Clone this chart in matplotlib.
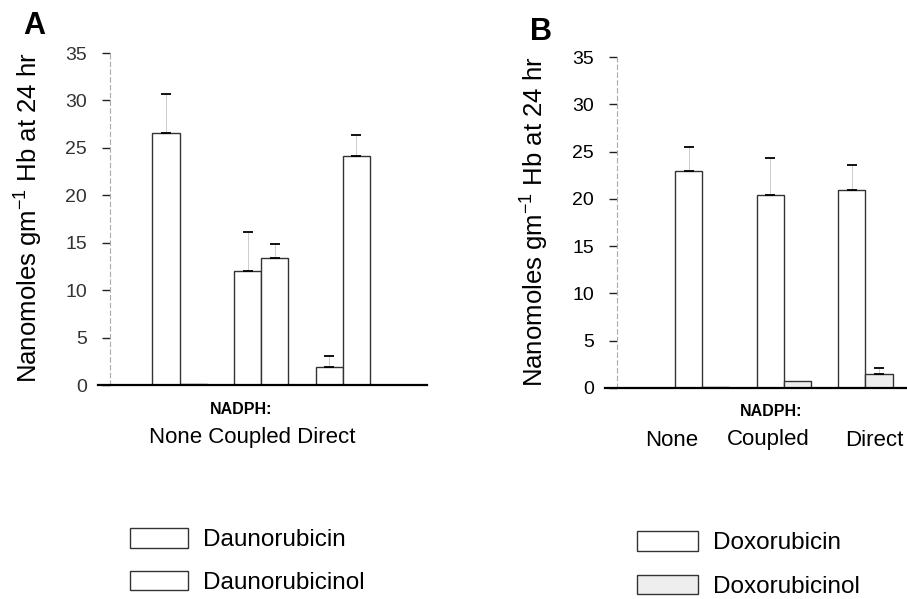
import matplotlib.pyplot as plt

plt.rcParams['font.family'] = ['Liberation Sans', 'DejaVu Sans']

# NADPH conditions
groups = ['None', 'Coupled', 'Direct']

# panel A: daunorubicin study (mean, upper error)
dauno = [26.6, 12.0, 1.9]
dauno_err = [4.1, 4.1, 1.2]
daunol = [0.1, 13.4, 24.1]
daunol_err = [0.0, 1.5, 2.3]

# panel B: doxorubicin study
doxo = [22.9, 20.4, 20.9]
doxo_err = [2.6, 3.9, 2.7]
doxol = [0.1, 0.7, 1.5]
doxol_err = [0.0, 0.0, 0.6]

yticks = [0, 5, 10, 15, 20, 25, 30, 35]
ylabel = 'Nanomoles gm$^{\\mathregular{-1}}$ Hb at 24 hr'

W, H = 907, 599


def px(x, y):
    return x / W, 1 - y / H


def panel(rect, xlim, spine_x, a, a_err, b, b_err, b_face, names):
    ax = fig.add_axes(rect)
    xs = [3 * i for i in range(len(groups))]
    ba = ax.bar([x - 0.5 for x in xs], a, width=1.0, facecolor='white',
                edgecolor='#333333', linewidth=1.0, label=names[0])
    bb = ax.bar([x + 0.5 for x in xs], b, width=1.0, facecolor=b_face,
                edgecolor='#333333', linewidth=1.0, label=names[1])
    for off, vals, errs in [(-0.5, a, a_err), (0.5, b, b_err)]:
        for x, v, e in zip(xs, vals, errs):
            if e > 0:
                eb = ax.errorbar(x + off, v, yerr=[[0], [e]], fmt='none',
                                 ecolor='black', elinewidth=0.6, capsize=3.4,
                                 capthick=1.3)
                eb[2][0].set_color('#c4c4c4')
    ax.set_xlim(*xlim)
    ax.set_ylim(0, 35)
    ax.set_yticks(yticks)
    ax.set_xticks([])
    for s in ['top', 'right']:
        ax.spines[s].set_visible(False)
    ax.spines['left'].set_position(('data', spine_x))
    ax.spines['left'].set_color('#aaaaaa')
    ax.spines['left'].set_linestyle((0, (4, 3)))
    ax.spines['left'].set_linewidth(0.8)
    ax.spines['bottom'].set_linewidth(1.6)
    ax.tick_params(axis='y', length=5.5, width=1.0, color='#222222',
                   labelsize=14, pad=11)
    return ax, ba, bb


fig = plt.figure(figsize=(W / 100, H / 100), dpi=100)

# panel A
axA, a1, a2 = panel([98 / W, (H - 385) / H, 329 / W, 332 / H], (-3.0, 9.1), -2.57,
                    dauno, dauno_err, daunol, daunol_err, 'white',
                    ['Daunorubicin', 'Daunorubicinol'])
for lab in axA.get_yticklabels():
    lab.set_color('#333333')
fig.text(*px(28, 218), ylabel, rotation=90, ha='center', va='center', fontsize=18.5)
fig.text(*px(34, 26), 'A', ha='center', va='center', fontsize=22, fontweight='bold')
fig.text(*px(241, 410), 'NADPH:', ha='center', va='center', fontsize=11.5,
         fontweight='bold')
fig.text(*px(252, 437), ' '.join(groups), ha='center', va='center', fontsize=16)
fig.legend(handles=[a1, a2], loc='upper left', bbox_to_anchor=px(130, 528),
           frameon=False, fontsize=17.5, borderpad=0, borderaxespad=0,
           handlelength=2.4, handleheight=0.86, handletextpad=0.62,
           labelspacing=0.8)

# panel B
axB, b1, b2 = panel([605 / W, (H - 388) / H, 302 / W, 331 / H], (-3.57, 7.53), -3.13,
                    doxo, doxo_err, doxol, doxol_err, '#eeeeee',
                    ['Doxorubicin', 'Doxorubicinol'])
fig.text(*px(534, 222), ylabel, rotation=90, ha='center', va='center', fontsize=18.5)
fig.text(*px(541, 32), 'B', ha='center', va='center', fontsize=22, fontweight='bold')
fig.text(*px(771, 412), 'NADPH:', ha='center', va='center', fontsize=11.5,
         fontweight='bold')
for name, x in zip(groups, [672, 768, 874]):
    fig.text(*px(x, 440), name, ha='center', va='center', fontsize=16)
fig.legend(handles=[b1, b2], loc='upper left', bbox_to_anchor=px(637, 531),
           frameon=False, fontsize=17.5, borderpad=0, borderaxespad=0,
           handlelength=2.5, handleheight=0.86, handletextpad=0.62,
           labelspacing=0.85)

fig.savefig('out.png', dpi=100)
